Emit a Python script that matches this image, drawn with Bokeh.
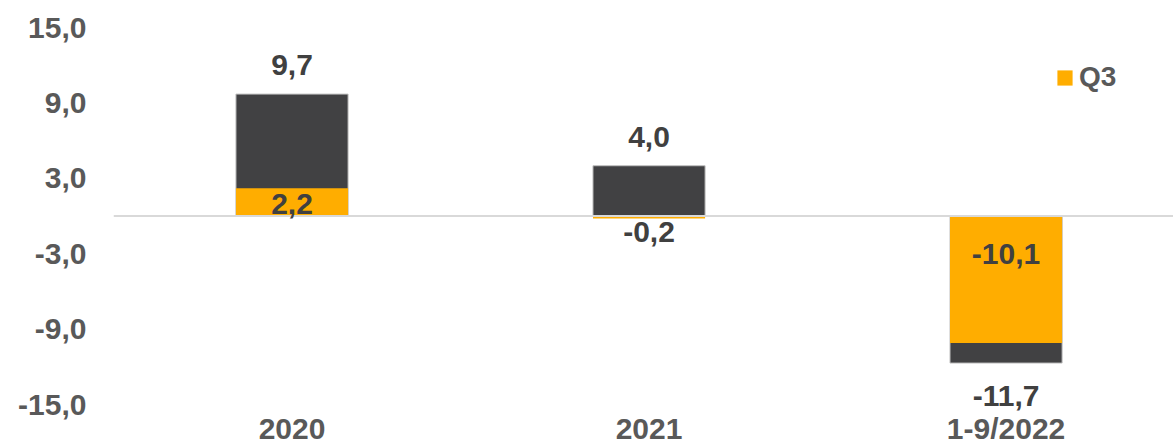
from bokeh.plotting import figure
from bokeh.models import (Range1d, FixedTicker, Span, ColumnDataSource, LabelSet,
                          Legend, LegendItem)
from bokeh.core.properties import value
from bokeh.embed import file_html
from bokeh.resources import INLINE

# ---- data ----
categories = ["2020", "2021", "1-9/2022"]
total_values = [9.7, 4.0, -11.7]
q3_values = [2.2, -0.2, -10.1]
y_ticks = [-15, -9, -3, 3, 9, 15]
y_tick_labels = ["-15,0", "-9,0", "-3,0", "3,0", "9,0", "15,0"]

# ---- styling ----
DARK = "#414143"
ORANGE = "#FFAD00"
LABEL_COLOR = "#404040"
AXIS_COLOR = "#595959"
FONT = "Liberation Sans"
q3_label_offsets = [12, -16, -38]


def fmt(v):
    return f"{v:.1f}".replace(".", ",")


x_pos = [i + 0.5 for i in range(len(categories))]

src = ColumnDataSource(dict(
    x=x_pos,
    total=total_values,
    q3=q3_values,
    zero=[0] * len(categories),
    total_lbl=[fmt(v) for v in total_values],
    q3_lbl=[fmt(v) for v in q3_values],
    total_off=[29 if v > 0 else -33 for v in total_values],
    q3_off=q3_label_offsets,
))

p = figure(width=1173, height=445, output_backend="svg", toolbar_location=None,
           x_range=Range1d(0, 2.969), y_range=Range1d(-18.26, 15),
           min_border_left=113, min_border_right=0, min_border_top=27,
           min_border_bottom=0)
p.outline_line_color = None
p.xgrid.visible = False
p.ygrid.visible = False
p.background_fill_color = "white"

# axes
for ax in (p.xaxis[0], p.yaxis[0]):
    ax.axis_line_color = None
    ax.major_tick_line_color = None
    ax.minor_tick_line_color = None
    ax.major_tick_out = 0
    ax.major_tick_in = 0
    ax.minor_tick_out = 0
    ax.minor_tick_in = 0
    ax.major_label_text_font = FONT
    ax.major_label_text_font_style = "bold"
    ax.major_label_text_font_size = "30px"
    ax.major_label_text_color = AXIS_COLOR

p.yaxis.ticker = FixedTicker(ticks=y_ticks)
p.yaxis.major_label_overrides = {t: l for t, l in zip(y_ticks, y_tick_labels)}
p.yaxis.major_label_standoff = 27

p.xaxis.ticker = FixedTicker(ticks=x_pos)
p.xaxis.major_label_overrides = {x: c for x, c in zip(x_pos, categories)}
p.xaxis.fixed_location = y_ticks[0]
p.xaxis.major_label_standoff = 7

# bars
p.vbar(x="x", top="total", bottom=0, width=0.314, source=src,
       fill_color=DARK, line_color="#BFBFBF", line_width=1)
q3r = p.vbar(x="x", top="q3", bottom=0, width=0.314, source=src,
             fill_color=ORANGE, line_color=None)

# zero line
p.add_layout(Span(location=0, dimension="width", line_color="#D9D9D9", line_width=2))

# labels
for ycol, tcol, ocol in (("total", "total_lbl", "total_off"), ("zero", "q3_lbl", "q3_off")):
    p.add_layout(LabelSet(x="x", y=ycol, text=tcol, y_offset=ocol,
                          source=src, text_align="center", text_baseline="middle",
                          text_font=value(FONT), text_font_style="bold",
                          text_font_size="30px", text_color=LABEL_COLOR))

# legend
legend = Legend(items=[LegendItem(label="Q3", renderers=[q3r])],
                location=(942, 352), padding=0, margin=0, spacing=0,
                border_line_color=None, background_fill_alpha=0,
                glyph_width=19, glyph_height=19, label_standoff=5,
                label_text_font=FONT, label_text_font_style="bold",
                label_text_font_size="28px", label_text_color=AXIS_COLOR)
p.add_layout(legend)

open("out.html", "w").write(file_html(p, INLINE))
